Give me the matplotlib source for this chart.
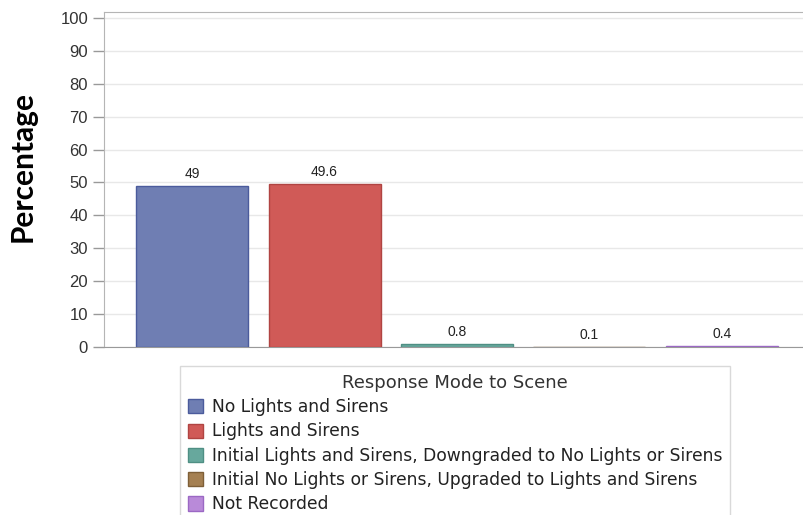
import matplotlib.pyplot as plt
from matplotlib.patches import Patch

categories = ['No Lights and Sirens',
              'Lights and Sirens',
              'Initial Lights and Sirens, Downgraded to No Lights or Sirens',
              'Initial No Lights or Sirens, Upgraded to Lights and Sirens',
              'Not Recorded']
values = [49, 49.6, 0.8, 0.1, 0.4]
labels = ['49', '49.6', '0.8', '0.1', '0.4']
colors = ['#6F7EB3', '#D05A57', '#67A89D', '#A58052', '#B98AD9']
edges = ['#4B5B9C', '#B04442', '#4F8F84', '#7E5F38', '#9B68C4']

plt.rcParams['font.family'] = ['Liberation Sans', 'DejaVu Sans']

fig = plt.figure(figsize=(8.04, 5.15), dpi=100)
ax = fig.add_axes([0.1294, 0.3262, 0.8706, 0.6505])

x = list(range(len(values)))
ax.bar(x, values, width=0.846, color=colors, edgecolor=edges, linewidth=1, zorder=3)
for xi, v, t in zip(x, values, labels):
    ax.text(xi, v + 1.5, t, ha='center', va='bottom', fontsize=10, color='#222222')

ax.set_xlim(-0.665, 4.62)
ax.set_ylim(0, 101.8)
ax.set_yticks(range(0, 101, 10))
ax.set_xticks([])
ax.tick_params(axis='y', labelsize=12, labelcolor='#333333', color='#999999', length=8, width=1)
ax.grid(axis='y', color='#E8E8E8', linewidth=1, zorder=0)
for s in ['left', 'top']:
    ax.spines[s].set_color('#B5B5B5')
ax.spines['bottom'].set_color('#999999')
ax.spines['right'].set_visible(False)
ax.set_ylabel('Percentage', fontsize=21.5, fontweight='bold', family=['Lato', 'DejaVu Sans'],
              color='black')
ax.yaxis.set_label_coords(-0.097, 0.54)

handles = [Patch(facecolor=c, edgecolor=e, linewidth=1) for c, e in zip(colors, edges)]
leg = fig.legend(handles, categories, title='Response Mode to Scene',
                 loc='upper left', bbox_to_anchor=(0.224, 0.289),
                 prop={'family': 'DejaVu Sans', 'size': 12.3},
                 title_fontproperties={'family': 'DejaVu Sans', 'size': 13},
                 frameon=True, fancybox=False,
                 handlelength=0.9, handleheight=0.9, handletextpad=0.5,
                 labelspacing=0.37, borderpad=0.45, borderaxespad=0)
leg.get_frame().set_edgecolor('#D0D0D0')
leg.get_frame().set_linewidth(1)
leg.get_title().set_color('#333333')
for t in leg.get_texts():
    t.set_color('#222222')

fig.savefig('out.png', dpi=100)
